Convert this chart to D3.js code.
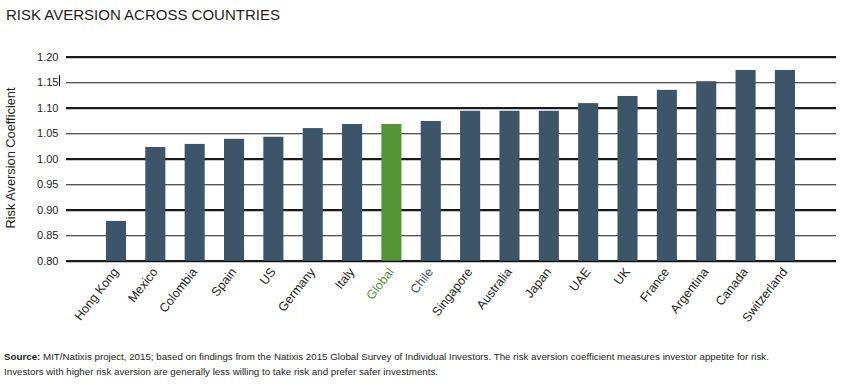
<!DOCTYPE html>
<html><head><meta charset="utf-8">
<script src="https://cdn.jsdelivr.net/npm/d3@7"></script>
<style>body{margin:0;background:#fff}svg{display:block}</style>
</head><body><svg id="c" width="865" height="390"></svg>
<script>
const countries = ["Hong Kong","Mexico","Colombia","Spain","US","Germany","Italy","Global","Chile","Singapore","Australia","Japan","UAE","UK","France","Argentina","Canada","Switzerland"];
const coefficients = [0.878,1.023,1.029,1.039,1.043,1.060,1.068,1.068,1.074,1.094,1.094,1.094,1.109,1.123,1.135,1.152,1.174,1.174];
const yTicks = [0.80,0.85,0.90,0.95,1.00,1.05,1.10,1.15,1.20];
const highlight = "Global";

const svg = d3.select("#c");
const slate = "#3c5568", green = "#549537";
const x = d3.scaleBand().domain(countries).range([96.3,804.6]).paddingInner(0.49).paddingOuter(0.245);
const y = d3.scaleLinear().domain([0.80,1.20]).range([260.7,56.7]);

svg.append("text").attr("x",6).attr("y",20).attr("font-family","Liberation Sans, Arial, sans-serif")
  .attr("font-size",15).attr("fill","#231f20").text("RISK AVERSION ACROSS COUNTRIES");

const yAxis = d3.axisLeft(y).tickValues(yTicks).tickSize(-770).tickFormat(d3.format(".2f")).tickPadding(8);
const g = svg.append("g").attr("transform","translate(66,0)").call(yAxis);
g.select(".domain").remove();
g.selectAll(".tick line").attr("stroke","#1a1a1a")
  .attr("stroke-width",(d,i)=> i%2===0 ? 2.2 : 1.1);
g.selectAll(".tick text").attr("font-family","Liberation Sans, Arial, sans-serif").attr("font-size",11).attr("fill","#231f20").attr("x",-7.5);

svg.append("line").attr("x1",59.5).attr("x2",59.5).attr("y1",y(1.15)-7).attr("y2",y(1.15)+4).attr("stroke","#000").attr("stroke-width",1);

svg.append("g").selectAll("rect").data(countries).join("rect")
  .attr("x",d=>x(d)).attr("width",x.bandwidth())
  .attr("y",(d,i)=>y(coefficients[i])).attr("height",(d,i)=>y(0.80)-y(coefficients[i]))
  .attr("fill",d=>d===highlight?green:slate);

svg.append("g").selectAll("text").data(countries).join("text")
  .attr("transform",d=>`translate(${x(d)+x.bandwidth()/2+3},${272}) rotate(-52)`)
  .attr("text-anchor","end").attr("font-family","Liberation Sans, Arial, sans-serif").attr("font-size",12.5)
  .attr("fill",d=>d===highlight?green:(d==="Chile"?slate:"#231f20"))
  .text(d=>d);

svg.append("text").attr("transform","translate(15,158) rotate(-90)").attr("text-anchor","middle")
  .attr("font-family","Liberation Sans, Arial, sans-serif").attr("font-size",12.8).attr("fill","#231f20")
  .text("Risk Aversion Coefficient");

const src = svg.append("text").attr("x",4).attr("y",360).attr("font-family","Liberation Sans, Arial, sans-serif").attr("font-size",9.75).attr("fill","#231f20");
src.append("tspan").attr("font-weight","bold").text("Source:");
src.append("tspan").text(" MIT/Natixis project, 2015; based on findings from the Natixis 2015 Global Survey of Individual Investors. The risk aversion coefficient measures investor appetite for risk.");
svg.append("text").attr("x",4).attr("y",375).attr("font-family","Liberation Sans, Arial, sans-serif").attr("font-size",9.75).attr("fill","#231f20")
  .text("Investors with higher risk aversion are generally less willing to take risk and prefer safer investments.");
</script></body></html>
